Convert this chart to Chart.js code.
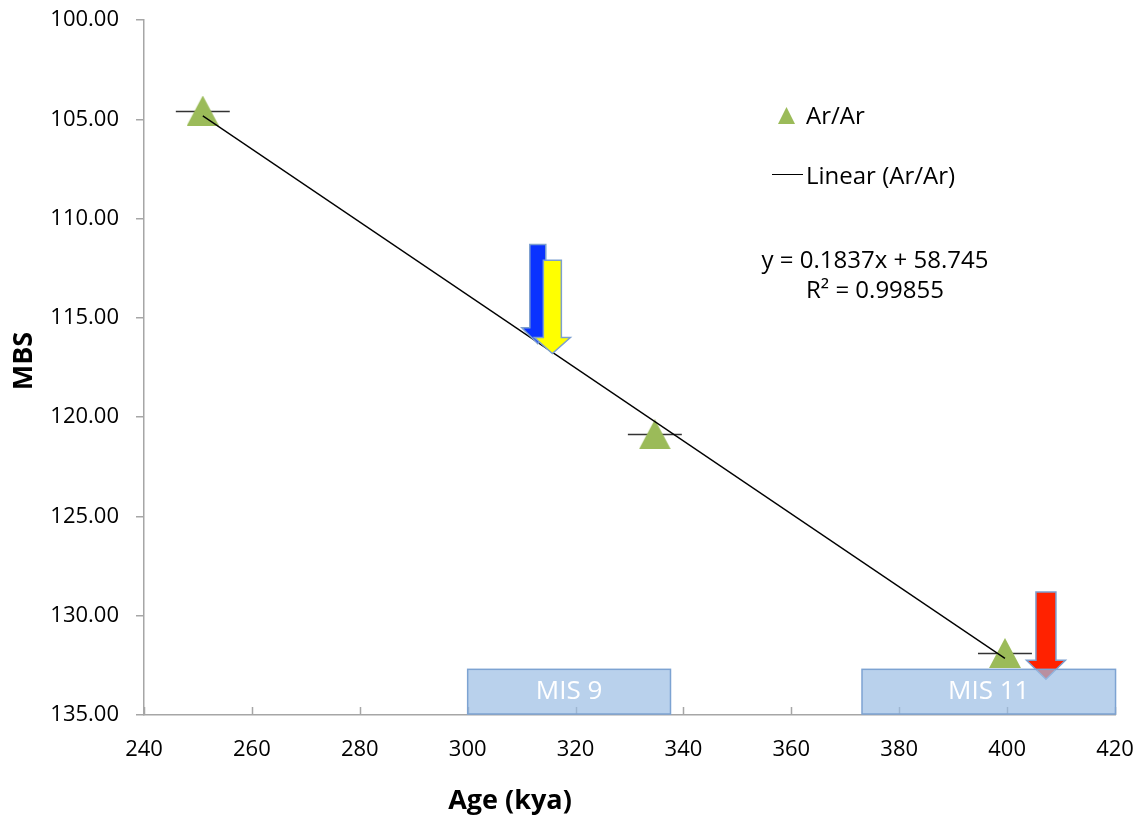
<!DOCTYPE html>
<html>
<head>
<meta charset="utf-8">
<title>MBS vs Age</title>
<script src="https://cdn.jsdelivr.net/npm/chart.js@4.4.1/dist/chart.umd.min.js"></script>
<style>
  html, body { margin: 0; padding: 0; background: #fff; }
</style>
</head>
<body>
<canvas id="chart" width="1145" height="820"></canvas>
<script>
// DATA
const ages = [250.9, 334.7, 399.6];          // kya
const depths = [104.56, 120.87, 131.88];     // MBS
const ageErr = [5, 5, 5];                    // +/- kya
const trendAges = [250.9, 399.6];
const trendDepths = [104.83, 132.15];
const xTicks = [240, 260, 280, 300, 320, 340, 360, 380, 400, 420];
const yTicks = [100, 105, 110, 115, 120, 125, 130, 135];
const equationLines = ['y = 0.1837x + 58.745', 'R\u00b2 = 0.99855'];

// ANNOTATIONS (data units)
const arrowAges = [313.0, 315.7, 407.2];
const arrowTops = [111.3, 112.1, 128.8];
const arrowTips = [116.3, 116.8, 133.2];
const arrowColors = ['#0a32ff', '#ffff00', '#ff2200'];
const misLabels = ['MIS 9', 'MIS 11'];
const misStart = [300, 373.1];
const misEnd = [337.6, 420.1];
const misTop = [132.7, 132.7];

const GREEN = '#9bbb59';
const AXIS = '#a6a6a6';
const FONT = "'Open Sans', sans-serif";

function triangle(w, h, color) {
  const c = document.createElement('canvas');
  c.width = w; c.height = h;
  const g = c.getContext('2d');
  g.fillStyle = color;
  g.beginPath();
  g.moveTo(w / 2, 0); g.lineTo(w, h); g.lineTo(0, h);
  g.closePath(); g.fill();
  return c;
}
const marker = triangle(32, 30, GREEN);

// error bars sit behind the markers
const errorBars = {
  id: 'errorBars',
  beforeDatasetsDraw(chart) {
    const {ctx, scales: {x, y}} = chart;
    ctx.save();
    ctx.strokeStyle = '#333'; ctx.lineWidth = 1.5;
    ages.forEach((a, i) => {
      const py = Math.round(y.getPixelForValue(depths[i])) + 0.5;
      ctx.beginPath();
      ctx.moveTo(x.getPixelForValue(a - ageErr[i]), py);
      ctx.lineTo(x.getPixelForValue(a + ageErr[i]), py);
      ctx.stroke();
    });
    ctx.restore();
  }
};

// ticks, arrows, MIS boxes, legend, equation, axis titles
const overlay = {
  id: 'overlay',
  afterDraw(chart) {
    const {ctx, scales: {x, y}, chartArea} = chart;
    ctx.save();

    // x ticks point up into the plot
    ctx.strokeStyle = AXIS; ctx.lineWidth = 1.5;
    xTicks.forEach(v => {
      const px = Math.round(x.getPixelForValue(v)) + 0.5;
      ctx.beginPath();
      ctx.moveTo(px, chartArea.bottom);
      ctx.lineTo(px, chartArea.bottom - 8);
      ctx.stroke();
    });

    // arrows
    const shaft = [16, 18, 20], head = [32, 36, 39], headLen = [16, 16, 19];
    arrowAges.forEach((a, i) => {
      const cx = x.getPixelForValue(a);
      const top = y.getPixelForValue(arrowTops[i]);
      const tip = y.getPixelForValue(arrowTips[i]);
      const base = tip - headLen[i];
      const sw = shaft[i] / 2, hw = head[i] / 2;
      ctx.beginPath();
      ctx.moveTo(cx - sw, top); ctx.lineTo(cx + sw, top);
      ctx.lineTo(cx + sw, base); ctx.lineTo(cx + hw, base);
      ctx.lineTo(cx, tip);
      ctx.lineTo(cx - hw, base); ctx.lineTo(cx - sw, base);
      ctx.closePath();
      ctx.fillStyle = arrowColors[i]; ctx.fill();
      ctx.strokeStyle = '#7c9fcf'; ctx.lineWidth = 1.5; ctx.stroke();
    });

    // MIS boxes
    misLabels.forEach((lbl, i) => {
      const x0 = x.getPixelForValue(misStart[i]);
      const x1 = x.getPixelForValue(misEnd[i]);
      const y0 = y.getPixelForValue(misTop[i]);
      const y1 = chartArea.bottom - 1;
      ctx.fillStyle = 'rgba(155,189,228,0.7)';
      ctx.fillRect(x0, y0, x1 - x0, y1 - y0);
      ctx.strokeStyle = '#7da3d2'; ctx.lineWidth = 1.5;
      ctx.strokeRect(x0, y0, x1 - x0, y1 - y0);
      ctx.fillStyle = '#fff';
      ctx.font = '26px ' + FONT;
      ctx.textAlign = 'center'; ctx.textBaseline = 'middle';
      ctx.fillText(lbl, (x0 + x1) / 2, (y0 + y1) / 2);
    });

    // legend
    ctx.fillStyle = '#000';
    ctx.font = '24px ' + FONT;
    ctx.textAlign = 'left'; ctx.textBaseline = 'middle';
    ctx.drawImage(triangle(17, 17, GREEN), 778, 107);
    ctx.fillText(chart.data.datasets[1].label, 806, 117);
    ctx.strokeStyle = '#000'; ctx.lineWidth = 1;
    ctx.beginPath(); ctx.moveTo(772, 174.5); ctx.lineTo(803, 174.5); ctx.stroke();
    ctx.fillText(chart.data.datasets[0].label, 806, 177);

    // trendline equation
    ctx.textAlign = 'center';
    ctx.fillText(equationLines[0], 875, 261);
    ctx.fillText(equationLines[1], 875, 291);

    // axis titles
    ctx.font = 'bold 27px ' + FONT;
    ctx.fillText('Age (kya)', 510, 801);
    ctx.translate(24, 361);
    ctx.rotate(-Math.PI / 2);
    ctx.fillText('MBS', 0, 0);
    ctx.restore();
  }
};

Chart.defaults.font.family = FONT;
Chart.defaults.color = '#000';

new Chart(document.getElementById('chart'), {
  type: 'scatter',
  data: {
    datasets: [
      {
        type: 'line',
        label: 'Linear (Ar/Ar)',
        data: trendAges.map((a, i) => ({x: a, y: trendDepths[i]})),
        borderColor: '#000',
        borderWidth: 1.3,
        pointRadius: 0,
        fill: false
      },
      {
        label: 'Ar/Ar',
        data: ages.map((a, i) => ({x: a, y: depths[i]})),
        pointStyle: marker,
        pointRadius: 15
      }
    ]
  },
  options: {
    responsive: false,
    animation: false,
    layout: { padding: { left: 0, top: 20, right: 30, bottom: 0 } },
    plugins: { legend: { display: false }, tooltip: { enabled: false } },
    scales: {
      x: {
        type: 'linear',
        min: 240, max: 420,
        afterBuildTicks: s => { s.ticks = xTicks.map(v => ({value: v})); },
        afterFit: s => { s.height = 105; s.paddingLeft = 0; s.paddingRight = 0; },
        ticks: { font: { size: 22 }, padding: 22, maxRotation: 0, callback: v => String(v) },
        grid: { drawOnChartArea: false, drawTicks: false, color: AXIS },
        border: { color: AXIS, width: 1.5 }
      },
      y: {
        type: 'linear',
        reverse: true,
        min: 100, max: 135,
        afterBuildTicks: s => { s.ticks = yTicks.map(v => ({value: v})); },
        afterFit: s => { s.width = 144; s.paddingTop = 0; s.paddingBottom = 0; },
        ticks: { font: { size: 22 }, padding: 17, callback: v => v.toFixed(2) },
        grid: { drawOnChartArea: false, tickLength: 8, color: AXIS, lineWidth: 1.5 },
        border: { color: AXIS, width: 1.5 }
      }
    }
  },
  plugins: [errorBars, overlay]
});
</script>
</body>
</html>
